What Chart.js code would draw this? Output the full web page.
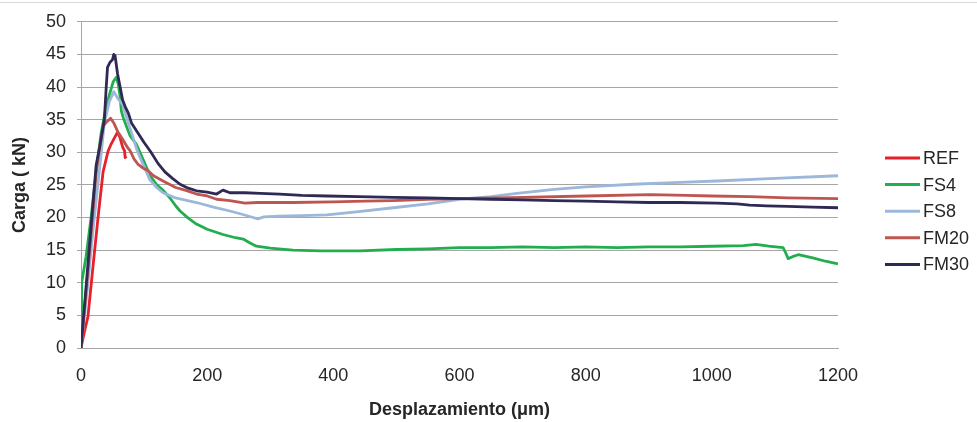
<!DOCTYPE html>
<html>
<head>
<meta charset="utf-8">
<script src="https://cdn.jsdelivr.net/npm/chart.js@4/dist/chart.umd.min.js"></script>
<style>
  body { margin: 0; background: #fff; }
  #wrap { position: relative; width: 977px; height: 422px; }
  #topline { position: absolute; top: 2px; left: 0; width: 977px; height: 1px; background: #d9d9d9; }
</style>
</head>
<body>
<div id="wrap">
  <div id="topline"></div>
  <canvas id="chart"></canvas>
</div>
<script>
// Carga vs desplazamiento
const seriesNames  = ['REF', 'FS4', 'FS8', 'FM20', 'FM30'];
const seriesColors = ['#e8202a', '#22ae4f', '#9bb7d9', '#bf5550', '#2f2a55'];

const refX = [0, 5, 11, 18, 27, 35, 43, 48, 53, 58, 62, 66, 69, 70, 72];
const refY = [0, 2.3, 4.8, 11.5, 20, 27, 30.2, 31.3, 32.2, 33.1, 32.2, 30.8, 30.2, 29.2, 29.4];

const fs4X = [0, 1, 8, 16, 24, 32, 40, 45, 51, 56, 59, 62, 64, 67, 72, 78, 88, 98, 109, 120, 130, 141, 150, 157, 170, 183, 200, 225, 245, 257, 268, 278, 300, 336, 380, 442, 500, 550, 600, 650, 700, 750, 800, 850, 900, 950, 1000, 1050, 1070, 1090, 1113, 1117, 1121, 1128, 1137, 1160, 1180, 1200];
const fs4Y = [0, 10, 14, 20, 27, 33, 37, 38.8, 40.8, 41.5, 40.5, 38.5, 36.3, 35.3, 34, 32.5, 31.2, 29, 26.5, 25, 24.2, 23, 21.8, 21, 19.9, 19, 18.2, 17.4, 16.9, 16.7, 16.1, 15.6, 15.3, 15.0, 14.9, 14.9, 15.1, 15.2, 15.4, 15.4, 15.5, 15.4, 15.5, 15.4, 15.5, 15.5, 15.6, 15.7, 15.9, 15.6, 15.4, 14.6, 13.7, 14.0, 14.3, 13.8, 13.3, 12.9];

const fs8X = [0, 10, 20, 30, 37, 45, 52, 58, 66, 74, 82, 90, 100, 109, 120, 130, 150, 183, 210, 236, 255, 273, 280, 290, 315, 350, 390, 440, 495, 550, 600, 650, 691, 750, 800, 875, 950, 1008, 1100, 1200];
const fs8Y = [0, 9, 19, 28, 34.5, 37.8, 39.3, 38.3, 37.3, 34.8, 32.4, 30.0, 27.8, 25.8, 24.6, 23.8, 23.0, 22.3, 21.6, 21.0, 20.5, 20.0, 19.8, 20.1, 20.2, 20.3, 20.4, 20.9, 21.5, 22.1, 22.8, 23.2, 23.7, 24.3, 24.7, 25.1, 25.4, 25.6, 26.0, 26.4];

const fm20X = [0, 12, 24, 30, 35, 40, 47, 52, 58, 66, 74, 78, 84, 90, 98, 106, 115, 130, 150, 165, 183, 200, 215, 236, 260, 280, 315, 336, 400, 450, 495, 550, 600, 700, 800, 902, 960, 1000, 1060, 1120, 1200];
const fm20Y = [0, 13, 27, 31, 34, 34.6, 35.2, 34.5, 33.2, 32, 30.7, 30.2, 29, 28.2, 27.6, 27.2, 26.4, 25.6, 24.6, 24.2, 23.6, 23.3, 22.8, 22.6, 22.2, 22.3, 22.3, 22.3, 22.4, 22.5, 22.6, 22.8, 22.9, 23.1, 23.3, 23.5, 23.4, 23.3, 23.2, 23.0, 22.9];

const fm30X = [0, 12, 24, 30, 37, 40, 42, 46, 50, 52, 54, 58, 62, 66, 70, 75, 80, 90, 100, 111, 122, 133, 145, 157, 170, 183, 200, 215, 225, 236, 260, 284, 315, 350, 390, 440, 495, 550, 600, 650, 700, 750, 800, 850, 900, 950, 1008, 1040, 1060, 1087, 1120, 1160, 1200];
const fm30Y = [0, 14, 28, 31, 35, 40, 43, 43.8, 44.2, 45, 44.8, 42, 40, 38, 37, 36, 34.5, 33, 31.5, 30, 28.3, 27, 26, 25.1, 24.5, 24.1, 23.9, 23.6, 24.2, 23.8, 23.8, 23.7, 23.6, 23.4, 23.3, 23.2, 23.1, 23.0, 22.9, 22.8, 22.7, 22.6, 22.5, 22.4, 22.3, 22.3, 22.2, 22.1, 21.9, 21.8, 21.7, 21.6, 21.5];

const xTicks = [0, 200, 400, 600, 800, 1000, 1200];
const yTicks = [0, 5, 10, 15, 20, 25, 30, 35, 40, 45, 50];

const allX = [refX, fs4X, fs8X, fm20X, fm30X];
const allY = [refY, fs4Y, fs8Y, fm20Y, fm30Y];

const FONT = 'Liberation Sans, Arial, sans-serif';

const datasets = seriesNames.map((name, i) => ({
  label: name,
  data: allX[i].map((x, k) => ({ x, y: allY[i][k] })),
  borderColor: seriesColors[i],
  backgroundColor: seriesColors[i],
  borderWidth: 2.8,
  pointRadius: 0,
  tension: 0,
  borderJoinStyle: 'round',
  order: seriesNames.length - 1 - i
}));

// legend drawn by hand to match the Excel layout
const sideLegend = {
  id: 'sideLegend',
  afterDraw(chart) {
    const { ctx, chartArea } = chart;
    const x0 = chartArea.right + 47;
    const y0 = 158, step = 26.6;
    ctx.save();
    ctx.font = '18px ' + FONT;
    ctx.textBaseline = 'middle';
    seriesNames.forEach((name, i) => {
      const y = y0 + i * step;
      ctx.strokeStyle = seriesColors[i];
      ctx.lineWidth = 3;
      ctx.beginPath();
      ctx.moveTo(x0, y);
      ctx.lineTo(x0 + 35, y);
      ctx.stroke();
      ctx.fillStyle = '#262626';
      ctx.fillText(name, x0 + 38, y + 1);
    });
    ctx.restore();
  }
};

new Chart(document.getElementById('chart'), {
  type: 'line',
  data: { datasets },
  options: {
    responsive: true, maintainAspectRatio: false, animation: false,
    layout: { padding: { top: 20, right: 139, bottom: 0, left: 0 } },
    plugins: { legend: { display: false }, tooltip: { enabled: false } },
    scales: {
      x: {
        type: 'linear', min: 0, max: 1200,
        afterBuildTicks: s => { s.ticks = xTicks.map(v => ({ value: v })); },
        afterFit: s => { s.height = 74; },
        grid: { display: false, drawTicks: true, tickLength: 4 },
        border: { display: true, color: '#a6a6a6', width: 1 },
        ticks: { color: '#262626', font: { family: FONT, size: 18 }, padding: 13, maxRotation: 0,
                 callback: v => String(v) },
        title: { display: true, text: 'Desplazamiento (μm)', color: '#262626',
                 font: { family: FONT, size: 18, weight: 'bold' }, padding: { top: 0, bottom: 1 } }
      },
      y: {
        min: 0, max: 50,
        afterBuildTicks: s => { s.ticks = yTicks.map(v => ({ value: v })); },
        afterFit: s => { s.width = 81; },
        grid: { color: '#a6a6a6', lineWidth: 1, tickLength: 4 },
        border: { display: true, color: '#a6a6a6', width: 1 },
        ticks: { color: '#262626', font: { family: FONT, size: 18 }, padding: 11 },
        title: { display: true, text: 'Carga ( kN)', color: '#262626',
                 font: { family: FONT, size: 18, weight: 'bold' }, padding: { top: 9, bottom: 0 } }
      }
    }
  },
  plugins: [sideLegend]
});
</script>
</body>
</html>
